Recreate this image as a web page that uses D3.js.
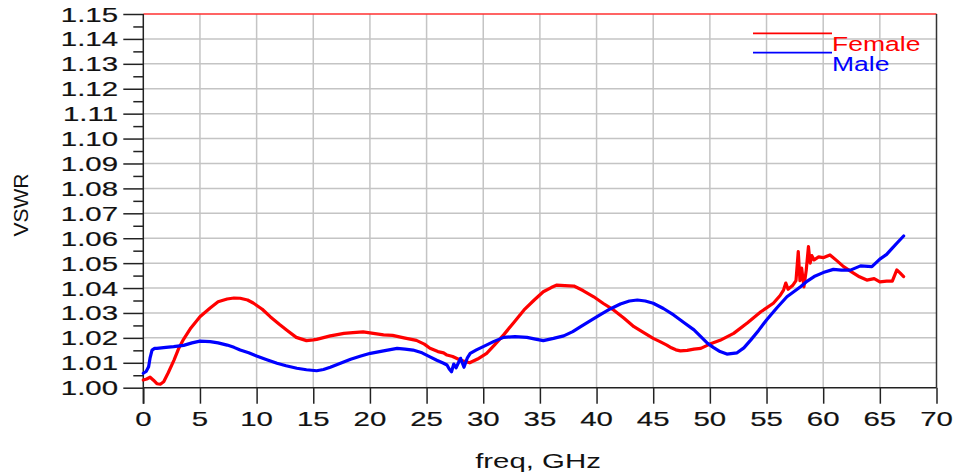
<!DOCTYPE html>
<html>
<head>
<meta charset="utf-8">
<script src="https://cdn.jsdelivr.net/npm/d3@7"></script>
<style>
html,body{margin:0;padding:0;background:#fff;}
svg{display:block;}
text{font-family:"Liberation Sans",Arial,sans-serif;}
</style>
</head>
<body>
<svg id="chart" width="964" height="476"></svg>
<script>
// ---------- data ----------
const freqFemale = [0,0.3,0.6,0.9,1.2,1.5,1.8,2.2,2.7,3.1,3.55,4.2,5.0,5.9,6.6,7.4,8.0,8.55,9.2,9.7,10.5,11.2,12.0,12.7,13.5,14.4,15.0,15.3,15.9,16.5,17.0,17.7,18.5,19.4,20.3,21.2,22.0,23.0,24.1,24.8,25.3,26.0,26.5,26.8,27.3,27.96,28.4,28.8,29.5,30.3,31.0,31.8,32.7,33.6,34.5,35.3,36.0,36.5,37.2,38.0,38.8,39.75,40.6,41.5,42.4,43.3,44.2,45.0,45.6,46.2,46.6,47.0,47.4,48.0,48.6,49.2,50.0,50.9,52.1,53.3,54.5,55.6,56.2,56.5,56.7,56.9,57.3,57.6,57.8,57.95,58.1,58.3,58.5,58.7,58.85,59.0,59.2,59.6,60.0,60.6,61.2,61.8,62.5,63.2,63.85,64.5,65.0,65.6,66.1,66.5,66.8,67.1];
const vswrFemale = [1.0031,1.0035,1.0042,1.0030,1.0016,1.0014,1.0024,1.0060,1.0110,1.0155,1.0194,1.0240,1.0285,1.0320,1.0345,1.0356,1.0360,1.0359,1.0352,1.0340,1.0315,1.0285,1.0255,1.0230,1.0202,1.0189,1.0192,1.0194,1.0201,1.0208,1.0212,1.0218,1.0221,1.0224,1.0218,1.0212,1.0210,1.0200,1.0190,1.0175,1.0158,1.0145,1.0140,1.0131,1.0125,1.0111,1.0105,1.0100,1.0115,1.0138,1.0172,1.0212,1.0262,1.0312,1.0352,1.0385,1.0402,1.0412,1.0410,1.0408,1.0390,1.0365,1.0338,1.0312,1.0280,1.0245,1.0220,1.0198,1.0185,1.0171,1.0160,1.0152,1.0148,1.0150,1.0155,1.0158,1.0175,1.0190,1.0218,1.0260,1.0305,1.0339,1.0370,1.0392,1.0420,1.0395,1.0410,1.0430,1.0546,1.0430,1.0480,1.0405,1.0470,1.0566,1.0500,1.0530,1.0513,1.0525,1.0522,1.0533,1.0510,1.0486,1.0465,1.0445,1.0432,1.0438,1.0425,1.0428,1.0428,1.0473,1.0460,1.0446];

const freqMale = [0,0.25,0.47,0.6,0.77,1.0,1.2,1.6,2.0,2.68,3.56,4.3,5.0,5.9,6.6,7.4,8.0,8.55,9.3,10.0,10.9,11.8,12.6,13.55,14.4,15.3,15.9,16.5,17.4,18.3,19.2,20.04,21.2,22.4,23.1,23.8,24.6,25.3,25.9,26.5,26.8,27.0,27.2,27.4,27.6,28.0,28.3,28.6,28.85,29.4,30.0,30.9,31.8,32.8,33.86,34.6,35.3,36.2,37.1,37.9,38.6,39.5,40.3,41.2,42.1,42.9,43.6,44.3,45.0,45.9,46.8,47.7,48.6,49.2,49.8,50.3,50.9,51.5,52.4,53.0,53.6,54.3,55.0,55.9,56.8,57.4,58.0,58.6,59.2,60.0,60.9,61.6,62.4,63.3,64.3,65.0,65.6,66.1,66.6,67.1];
const vswrMale = [1.0058,1.0065,1.0084,1.0120,1.0151,1.0158,1.0158,1.0160,1.0162,1.0165,1.0170,1.0180,1.0187,1.0185,1.0180,1.0171,1.0162,1.0151,1.0140,1.0127,1.0112,1.0098,1.0088,1.0078,1.0072,1.0068,1.0073,1.0082,1.0098,1.0114,1.0127,1.0138,1.0148,1.0158,1.0155,1.0151,1.0140,1.0124,1.0110,1.0098,1.0091,1.0075,1.0064,1.0095,1.0080,1.0118,1.0082,1.0120,1.0138,1.0152,1.0165,1.0185,1.0202,1.0205,1.0202,1.0195,1.0189,1.0198,1.0208,1.0225,1.0245,1.0270,1.0292,1.0316,1.0336,1.0348,1.0352,1.0348,1.0339,1.0318,1.0292,1.0262,1.0232,1.0205,1.0178,1.0162,1.0145,1.0135,1.0140,1.0160,1.0191,1.0230,1.0272,1.0320,1.0365,1.0385,1.0405,1.0428,1.0446,1.0462,1.0475,1.0472,1.0472,1.0489,1.0486,1.0516,1.0535,1.0560,1.0585,1.0609];

const xTicks = [0,5,10,15,20,25,30,35,40,45,50,55,60,65,70];
const yTicks = [1.00,1.01,1.02,1.03,1.04,1.05,1.06,1.07,1.08,1.09,1.10,1.11,1.12,1.13,1.14,1.15];
const seriesNames = ["Female","Male"];
const seriesColors = ["#ff0000","#0000ff"];
const xTitle = "freq, GHz";
const yTitle = "VSWR";

// ---------- layout ----------
const L = 143.3, R = 936.5, T = 14, B = 387.7;
const FS = 21, SX = 1.4;
const svg = d3.select("#chart");
const x = d3.scaleLinear().domain([0,70]).range([L,R]);
const y = d3.scaleLinear().domain([1.00,1.15]).range([B,T]);

// grid
const g = svg.append("g");
g.selectAll("line.vg").data(xTicks.filter(d=>d>0 && d<70)).join("line")
  .attr("x1",d=>x(d)).attr("x2",d=>x(d)).attr("y1",T).attr("y2",B)
  .attr("stroke","#c4c4c4").attr("stroke-width",1.5);
g.selectAll("line.hg").data(yTicks.filter(d=>d>1.001 && d<1.149)).join("line")
  .attr("x1",L).attr("x2",R).attr("y1",d=>y(d)).attr("y2",d=>y(d))
  .attr("stroke","#c4c4c4").attr("stroke-width",1.5);

// top red border & right border
svg.append("line").attr("x1",L).attr("x2",R).attr("y1",y(1.15)).attr("y2",y(1.15))
  .attr("stroke","#ff3030").attr("stroke-width",1.5);
svg.append("line").attr("x1",R).attr("x2",R).attr("y1",T).attr("y2",B)
  .attr("stroke","#333").attr("stroke-width",1.5);

// y axis
const yAxis = d3.axisLeft(y).tickValues(yTicks).tickSize(20).tickFormat("");
const ya = svg.append("g").attr("transform",`translate(${L},0)`).call(yAxis);
ya.selectAll("path,line").attr("stroke","#222").attr("stroke-width",1.5);
ya.select("path").remove();
const yMinor = d3.range(0,15).map(i=>1.005+i*0.01);
const yam = svg.append("g").attr("transform",`translate(${L},0)`)
  .call(d3.axisLeft(y).tickValues(yMinor).tickSize(10).tickFormat(""));
yam.selectAll("line").attr("stroke","#222").attr("stroke-width",1.5);
yam.select("path").remove();
svg.append("line").attr("x1",L).attr("x2",L).attr("y1",T).attr("y2",B+16)
  .attr("stroke","#222").attr("stroke-width",1.5);

// x axis
const xa = svg.append("g").attr("transform",`translate(0,${B})`)
  .call(d3.axisBottom(x).tickValues(xTicks).tickSize(16).tickFormat(""));
xa.selectAll("line").attr("stroke","#222").attr("stroke-width",1.5);
xa.select("path").remove();
svg.append("line").attr("x1",L).attr("x2",R).attr("y1",B).attr("y2",B)
  .attr("stroke","#222").attr("stroke-width",1.5);

// tick labels
svg.append("g").selectAll("text").data(yTicks).join("text")
  .attr("transform",d=>`translate(118,${y(d)+7.5}) scale(${SX},1)`)
  .attr("text-anchor","end").attr("font-size",FS).attr("fill","#111")
  .attr("stroke","#111").attr("stroke-width",0.2)
  .text(d=>d.toFixed(2));
svg.append("g").selectAll("text").data(xTicks).join("text")
  .attr("transform",d=>`translate(${x(d)},426) scale(${SX},1)`)
  .attr("text-anchor","middle").attr("font-size",FS).attr("fill","#111")
  .attr("stroke","#111").attr("stroke-width",0.2)
  .text(d=>d);

// titles
svg.append("text").attr("transform",`translate(538,468) scale(${SX},1)`)
  .attr("text-anchor","middle").attr("font-size",FS).attr("fill","#111").text(xTitle);
svg.append("text").attr("transform",`translate(28,205) rotate(-90)`)
  .attr("text-anchor","middle").attr("font-size",FS).attr("fill","#111").text(yTitle);

// series
const line = d3.line().x(d=>x(d[0])).y(d=>y(d[1]));
const series = [
  d3.zip(freqFemale, vswrFemale),
  d3.zip(freqMale, vswrMale)
];
series.forEach((s,i)=>{
  svg.append("path").datum(s).attr("d",line).attr("fill","none")
    .attr("stroke",seriesColors[i]).attr("stroke-width",3.2)
    .attr("stroke-linejoin","round").attr("stroke-linecap","round");
});

// legend
const legY = [33.3, 52.7];
const legBase = [50.5, 71];
seriesNames.forEach((n,i)=>{
  svg.append("line").attr("x1",753).attr("x2",832).attr("y1",legY[i]).attr("y2",legY[i])
    .attr("stroke",seriesColors[i]).attr("stroke-width",1.8);
  svg.append("text").attr("transform",`translate(832,${legBase[i]}) scale(1.36,1)`)
    .attr("font-size",19.5).attr("fill",seriesColors[i]).text(n);
});
</script>
</body>
</html>
